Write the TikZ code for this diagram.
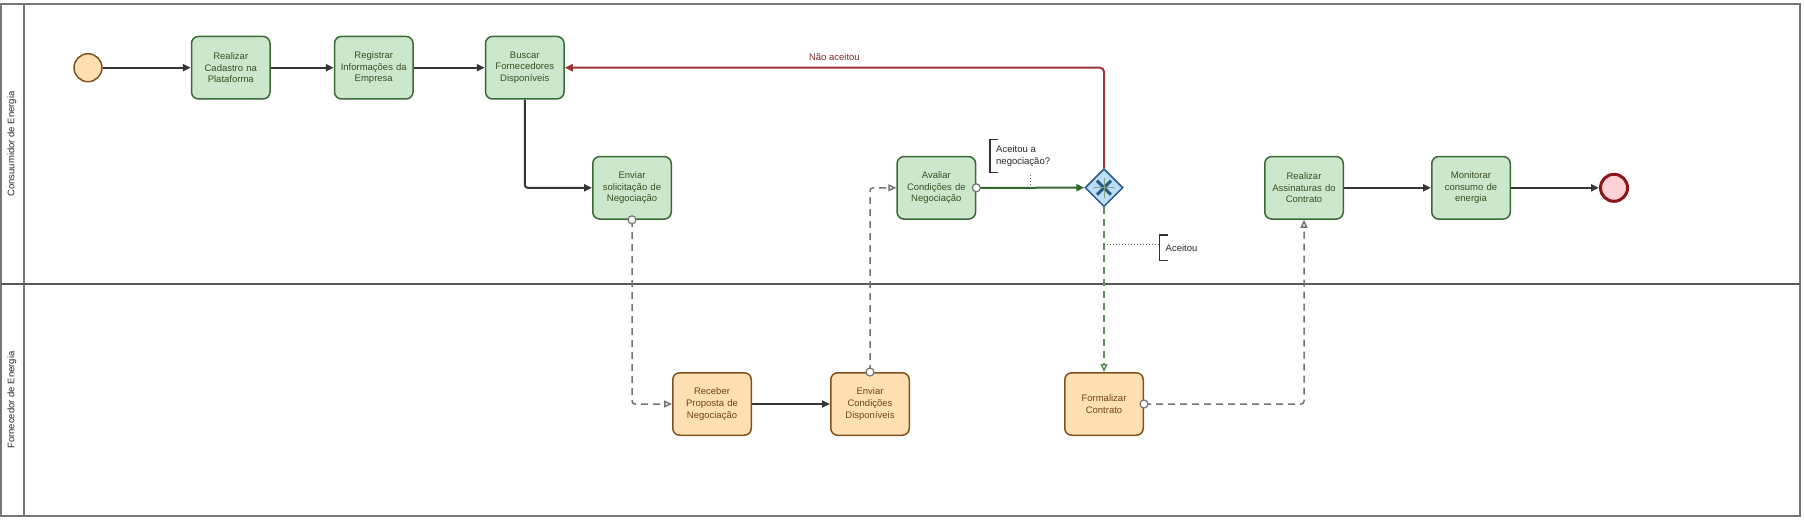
\documentclass[tikz,border=0pt]{standalone}
\usepackage{fontspec}
\setmainfont{Liberation Sans}
\usepackage{tikz}
\usetikzlibrary{positioning,arrows.meta,shapes.geometric,calc}

\definecolor{taskfill}{HTML}{CCE8CC}
\definecolor{taskline}{HTML}{3B6B35}
\definecolor{tasktext}{HTML}{3A4F22}
\definecolor{supfill}{HTML}{FFE0B3}
\definecolor{supline}{HTML}{7F5220}
\definecolor{suptext}{HTML}{6A4515}
\definecolor{gwfill}{HTML}{BBDEFB}
\definecolor{gwline}{HTML}{2A5A8A}
\definecolor{endfill}{HTML}{FFD1D6}
\definecolor{endline}{HTML}{8B1515}
\definecolor{noflow}{HTML}{A03535}
\definecolor{yesflow}{HTML}{2F6A2A}
\definecolor{lanegray}{HTML}{777777}
\definecolor{flowgray}{HTML}{363636}
\definecolor{msggray}{HTML}{737373}

\tikzstyle{task}=[draw=taskline, fill=taskfill, line width=1.5pt, rounded corners=7pt,
  minimum width=78.5pt, minimum height=62.5pt, text width=76pt, inner sep=0pt,
  align=center, text=tasktext, font=\fontsize{9.5}{11.7}\selectfont]
\tikzstyle{suptask}=[task, draw=supline, fill=supfill, text=suptext]
\tikzstyle{startev}=[circle, draw=supline, fill=supfill, line width=1.5pt, minimum size=28pt, inner sep=0pt]
\tikzstyle{endev}=[circle, draw=endline, fill=endfill, line width=3pt, minimum size=27pt, inner sep=0pt]
\tikzstyle{gateway}=[diamond, draw=gwline, fill=gwfill, line width=1.5pt, minimum width=38pt, minimum height=38pt, inner sep=0pt]
\tikzstyle{seqflow}=[draw=flowgray, line width=2pt, -{Triangle[length=8pt,width=7pt]}, rounded corners=3pt]
\tikzstyle{msgflow}=[draw=msggray, line width=1.5pt, dash pattern=on 7pt off 5pt, -{Triangle[open,length=8pt,width=7pt]}, rounded corners=3pt]
\tikzstyle{msgdot}=[circle, draw=msggray, fill=white, line width=1.2pt, minimum size=8pt, inner sep=0pt]
\tikzstyle{annot}=[anchor=north west, align=left, inner xsep=6pt, inner ysep=0pt, minimum height=33pt,
  text=black!85, font=\fontsize{9.5}{11.7}\selectfont]
\tikzstyle{bracket}=[draw=black!80, line width=1.5pt]
\tikzstyle{assoc}=[draw=black!60, line width=1pt, dotted]
\tikzstyle{lanelabel}=[rotate=90, text=black!85, font=\fontsize{9.5}{11.7}\selectfont]

\begin{document}
\begin{tikzpicture}[x=1pt,y=-1pt]
    \useasboundingbox (0,0) rectangle (1804,520);

    % pool and lanes
    \draw[lanegray, line width=1.5pt] (1,4) rectangle (1800,516);
    \draw[lanegray, line width=1.5pt] (24,4) -- (24,516);
    \draw[black!65, line width=1.5pt] (1,284) -- (1800,284);
    \node[lanelabel] (lane_c) at (12,144) {Consuumidor de Energia};
    \node[lanelabel] (lane_f) at (12,400) {Fornecedor de Energia};

    % consumidor
    \node[startev]  (inicio)                            at (88,67.7) {};
    \node[task]     (cadastro)  [right=88pt of inicio]   {Realizar\\Cadastro na\\Plataforma};
    \node[task]     (registrar) [right=63pt of cadastro] {Registrar\\Informações da\\Empresa};
    \node[task]     (buscar)    [right=71pt of registrar] {Buscar\\Fornecedores\\Disponíveis};
    \node[task]     (solicitacao)                       at (632,187.8) {Enviar\\solicitação de\\Negociação};
    \node[task]     (avaliar)                           at (936.3,187.8) {Avaliar\\Condições de\\Negociação};
    \node[gateway]  (gw)                                at (1104,187.7) {};
    \node[task]     (assinaturas)                       at (1304,187.8) {Realizar\\Assinaturas do\\Contrato};
    \node[task]     (monitorar) [right=87pt of assinaturas] {Monitorar\\consumo de\\energia};
    \node[endev]    (fim)       [right=88pt of monitorar] {};

    % fornecedor
    \node[suptask]  (receber)                           at (712,404) {Receber\\Proposta de\\Negociação};
    \node[suptask]  (condicoes) [right=78pt of receber]  {Enviar\\Condições\\Disponíveis};
    \node[suptask]  (formalizar)                        at (1104,404) {Formalizar\\Contrato};

    % gateway marker
    \draw[gwline, line width=3pt] ($(gw)+(-7,-7)$) -- ($(gw)+(7,7)$)
                                   ($(gw)+(-7,7)$) -- ($(gw)+(7,-7)$);
    \draw[yesflow!60, line width=1pt] ($(gw)+(-10,0)$) -- ($(gw)+(10,0)$)
                                       ($(gw)+(0,-10)$) -- ($(gw)+(0,10)$);

    % sequence flows
    \draw[seqflow] (inicio) -- (cadastro);
    \draw[seqflow] (cadastro) -- (registrar);
    \draw[seqflow] (registrar) -- (buscar);
    \draw[seqflow] (buscar.south) |- (solicitacao.west);
    \draw[seqflow] (receber) -- (condicoes);
    \draw[seqflow] (assinaturas) -- (monitorar);
    \draw[seqflow] (monitorar) -- (fim);
    \draw[seqflow, draw=yesflow, -{Triangle[length=8pt,width=7pt,fill=yesflow]}] (avaliar.east) -- (gw.west);
    \draw[seqflow, draw=noflow, rounded corners=4pt, -{Triangle[length=8pt,width=7pt,fill=noflow]}]
        (gw.north) |- node[pos=0.75, above=3pt, text=noflow!80!black,
                           font=\fontsize{9.5}{11.7}\selectfont] {Não aceitou} (buscar.east);
    \draw[msgflow, draw=yesflow!75, -{Triangle[open,length=8pt,width=7pt]}] (gw.south) -- (formalizar.north);

    % message flows
    \draw[msgflow] (solicitacao.south) |- (receber.west);
    \draw[msgflow] (condicoes.north) |- (avaliar.west);
    \draw[msgflow] (formalizar.east) -| (assinaturas.south);
    \node[msgdot] (m_1) at (solicitacao.south) {};
    \node[msgdot] (m_2) at (condicoes.north) {};
    \node[msgdot] (m_3) at (formalizar.east) {};
    \node[msgdot] (m_4) at (avaliar.east) {};

    % annotations
    \node[annot] (nota_1) at (990,139.3) {Aceitou a\\negociação?};
    \draw[bracket] ($(nota_1.north west)+(8,0)$) -- (nota_1.north west) -- (nota_1.south west) -- ++(8,0);
    \coordinate (a_1) at (1030,187.7);
    \draw[assoc] (a_1) -- (a_1 |- nota_1.south);

    \node[annot, minimum height=25pt] (nota_2) at (1159.5,235) {Aceitou};
    \draw[bracket] ($(nota_2.north west)+(8,0)$) -- (nota_2.north west) -- (nota_2.south west) -- ++(8,0);
    \coordinate (a_2) at (1104,244.3);
    \draw[assoc] (a_2) -- (a_2 -| nota_2.west);
\end{tikzpicture}
\end{document}
